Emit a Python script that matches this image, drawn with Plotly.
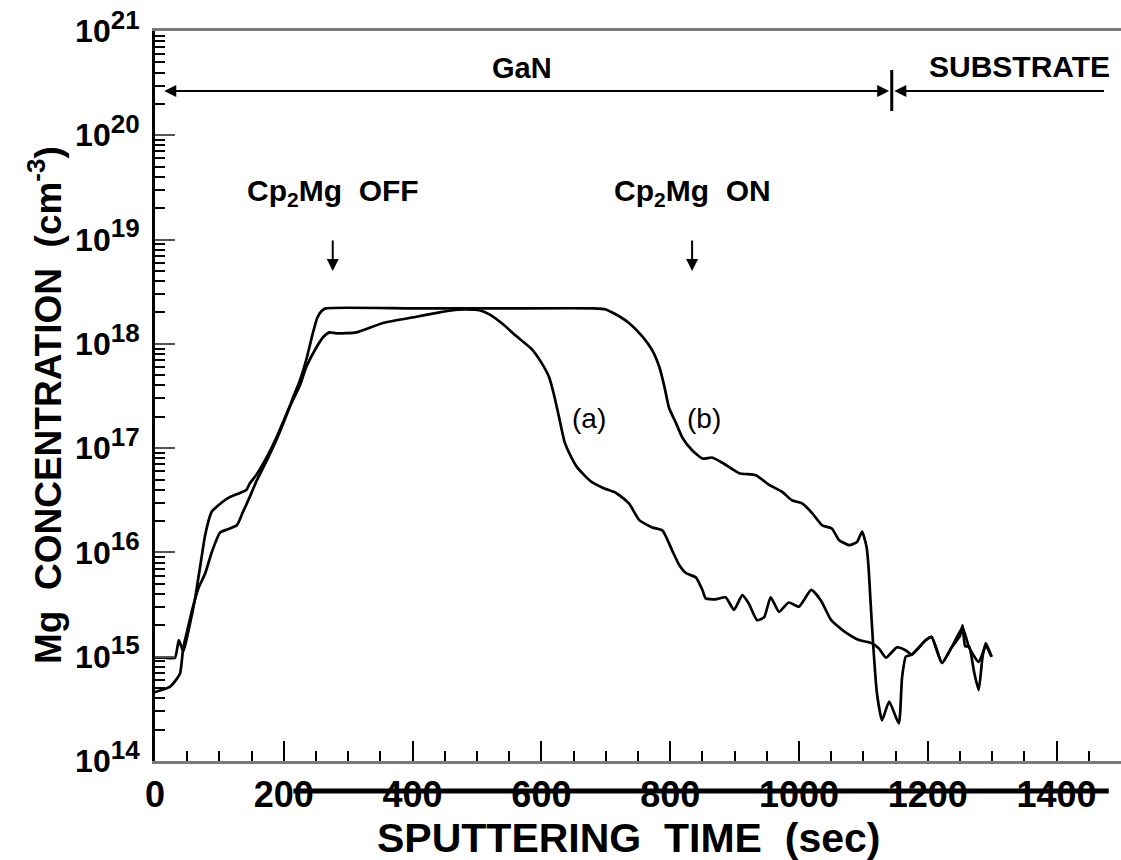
import numpy as np
import plotly.graph_objects as go

# Sputtering time (sec) and log10 of Mg concentration (cm^-3) for the two profiles
time_a = [0, 15, 31, 37, 44, 52, 62, 70, 78, 88, 98, 116, 132, 142, 147, 158, 175, 190,
          205, 214, 225, 235, 251, 262, 271, 282, 313, 354, 406, 440, 460, 480, 505, 520,
          540, 560, 585, 600, 612, 620, 628, 636, 645, 655, 675, 695, 716, 736, 752, 772,
          788, 803, 814, 825, 840, 850, 855, 870, 886, 899, 912, 922, 935, 946, 956, 969,
          984, 1000, 1019, 1034, 1050, 1073, 1093, 1113, 1124, 1135, 1152, 1166, 1175,
          1197, 1206, 1222, 1237, 1254, 1264, 1279, 1290, 1299]
log_a = [14.99, 14.99, 14.99, 15.16, 15.05, 15.25, 15.55, 15.86, 16.17, 16.39, 16.45,
         16.53, 16.57, 16.60, 16.66, 16.75, 16.93, 17.12, 17.34, 17.46, 17.60, 17.78,
         17.97, 18.07, 18.11, 18.10, 18.11, 18.20, 18.26, 18.30, 18.32, 18.33, 18.32,
         18.28, 18.19, 18.08, 17.95, 17.82, 17.68, 17.50, 17.28, 17.06, 16.93, 16.82,
         16.69, 16.62, 16.57, 16.47, 16.31, 16.24, 16.21, 16.02, 15.88, 15.80, 15.76,
         15.64, 15.56, 15.55, 15.57, 15.45, 15.59, 15.51, 15.35, 15.38, 15.57, 15.43,
         15.52, 15.48, 15.64, 15.54, 15.35, 15.23, 15.16, 15.13, 15.08, 14.99, 15.09,
         15.06, 15.02, 15.16, 15.19, 14.94, 15.09, 15.28, 15.09, 14.95, 15.10, 15.00]

time_b = [0, 10, 23, 33, 39, 44, 52, 59, 67, 78, 88, 101, 112, 127, 136, 147, 158, 175,
          190, 205, 214, 225, 235, 245, 252, 258, 265, 400, 550, 680, 700, 710, 722, 736,
          757, 772, 783, 791, 798, 809, 819, 834, 850, 865, 881, 907, 933, 953, 974, 989,
          1005, 1020, 1036, 1051, 1062, 1078, 1090, 1098, 1105, 1108, 1111, 1115, 1121,
          1129, 1140, 1155, 1160, 1166, 1175, 1197, 1206, 1222, 1237, 1250, 1254, 1258,
          1264, 1272, 1279, 1285, 1290, 1299]
log_b = [14.66, 14.68, 14.71, 14.78, 14.84, 15.09, 15.30, 15.48, 15.65, 15.80, 16.00,
         16.19, 16.22, 16.26, 16.38, 16.53, 16.69, 16.90, 17.10, 17.33, 17.48, 17.65,
         17.85, 18.10, 18.25, 18.31, 18.34, 18.34, 18.34, 18.34, 18.33, 18.30, 18.26,
         18.20, 18.07, 17.94, 17.78, 17.59, 17.39, 17.24, 17.10, 16.98, 16.90, 16.91,
         16.86, 16.76, 16.74, 16.65, 16.58, 16.50, 16.47, 16.38, 16.26, 16.23, 16.12,
         16.07, 16.10, 16.20, 16.05, 15.86, 15.54, 15.13, 14.65, 14.39, 14.57, 14.36,
         14.80, 15.00, 15.02, 15.16, 15.19, 14.94, 15.09, 15.20, 15.30, 15.10, 15.10,
         14.85, 14.68, 15.00, 15.13, 15.00]

# Axis ticks
x_ticks = [0, 200, 400, 600, 800, 1000, 1200, 1400]
y_exponents = [14, 15, 16, 17, 18, 19, 20, 21]

# Event markers along the time axis
t_off = 276        # Cp2Mg switched off
t_on = 834         # Cp2Mg switched on
t_interface = 1144  # GaN / substrate interface

FONT = "Liberation Sans, Arial, sans-serif"

# plot area in pixels: left 155, top 31, width 966, height 730
PLOT_L, PLOT_T, PLOT_W, PLOT_H = 155, 31, 966, 730


def px_x(px):
    return (px - PLOT_L) / PLOT_W


def px_y(py):
    return (PLOT_T + PLOT_H - py) / PLOT_H


conc_a = 10 ** np.array(log_a)
conc_b = 10 ** np.array(log_b)

fig = go.Figure()
for t, c in ((time_a, conc_a), (time_b, conc_b)):
    fig.add_trace(go.Scatter(x=t, y=c, mode="lines",
                             line=dict(color="black", width=2.7, shape="spline",
                                       smoothing=0.5),
                             showlegend=False, hoverinfo="skip"))

y_major = [10.0 ** e for e in y_exponents]
y_minor = [m * 10.0 ** e for e in y_exponents[:-1] for m in range(2, 10)]
y_text = [f'10<sup><span style="font-size:26px">{e}</span></sup>' for e in y_exponents]

fig.update_layout(
    width=1121, height=860,
    margin=dict(l=PLOT_L, r=1121 - PLOT_L - PLOT_W, t=PLOT_T, b=860 - PLOT_T - PLOT_H),
    paper_bgcolor="white", plot_bgcolor="white",
    font=dict(family=FONT, color="black"),
    xaxis=dict(
        range=[0, 1500], showgrid=False, zeroline=False,
        showline=True, linecolor="#7a7a7a", linewidth=3, mirror=True,
        ticks="inside", ticklen=20, tickwidth=2, tickcolor="black",
        tickvals=x_ticks, ticktext=[str(v) for v in x_ticks],
        tickfont=dict(family=FONT, size=36, weight="bold"),
        minor=dict(ticks="inside", ticklen=10, tickwidth=2, tickcolor="black", dtick=50),
    ),
    yaxis=dict(
        type="log", range=[14, 21], showgrid=False, zeroline=False,
        showline=True, linecolor="black", linewidth=3,
        ticks="inside", ticklen=20, tickwidth=2, tickcolor="#555555",
        tickvals=y_major, ticktext=y_text, ticklabelstandoff=6,
        tickfont=dict(family=FONT, size=32, weight="bold"),
        minor=dict(ticks="inside", ticklen=10, tickwidth=2, tickcolor="black",
                   tickvals=y_minor),
    ),
)

# Axis titles
fig.add_annotation(text="SPUTTERING  TIME  (sec)", xref="paper", yref="paper",
                   x=px_x(628), y=px_y(838), showarrow=False,
                   xanchor="center", yanchor="middle",
                   font=dict(family=FONT, size=41, weight="bold"))
fig.add_annotation(text="Mg  CONCENTRATION  (cm<sup>-3</sup>)", xref="paper", yref="paper",
                   x=px_x(45), y=px_y(405), showarrow=False,
                   textangle=-90, xanchor="center", yanchor="middle",
                   font=dict(family=FONT, size=37, weight="bold"))

# Layer labels and the double arrow spanning the GaN layer
y_layer = px_y(91)
fig.add_annotation(text="GaN", xref="x", yref="paper", x=570, y=px_y(50),
                   showarrow=False, font=dict(family=FONT, size=29, weight="bold"))
fig.add_annotation(text="SUBSTRATE", xref="x", yref="paper", x=1342, y=px_y(48),
                   showarrow=False, font=dict(family=FONT, size=30, weight="bold"))
fig.add_annotation(text="", xref="x", yref="paper", x=t_interface - 4, y=y_layer,
                   axref="x", ax=12, ay=0, showarrow=True, arrowside="end+start",
                   arrowhead=2, arrowsize=1.2, arrowwidth=2, arrowcolor="black")
fig.add_annotation(text="", xref="x", yref="paper", x=t_interface + 4, y=y_layer,
                   axref="x", ax=1476, ay=0, showarrow=True, arrowside="end",
                   arrowhead=2, arrowsize=1.2, arrowwidth=2, arrowcolor="black")
fig.add_shape(type="line", xref="x", yref="paper", x0=t_interface, x1=t_interface,
              y0=px_y(70), y1=px_y(111), line=dict(color="black", width=3))

# Cp2Mg switching arrows
for t, label in ((t_off, "Cp<sub>2</sub>Mg  OFF"), (t_on, "Cp<sub>2</sub>Mg  ON")):
    fig.add_annotation(text=label, xref="x", yref="paper", x=t, y=px_y(172),
                       showarrow=False, font=dict(family=FONT, size=30, weight="bold"))
    fig.add_annotation(text="", xref="x", yref="paper", x=t, y=px_y(271),
                       ax=0, ay=-32, showarrow=True, arrowhead=2, arrowsize=1.2,
                       arrowwidth=2, arrowcolor="black")

# Curve labels
fig.add_annotation(text="(a)", xref="x", yref="y", x=674, y=17.28, showarrow=False,
                   font=dict(family=FONT, size=28))
fig.add_annotation(text="(b)", xref="x", yref="y", x=852, y=17.28, showarrow=False,
                   font=dict(family=FONT, size=28))

# Rule running through the time tick labels
fig.add_shape(type="line", xref="x", yref="paper", x0=215, x1=1481,
              y0=px_y(791), y1=px_y(791), line=dict(color="black", width=5))

fig.write_html("out.html")
